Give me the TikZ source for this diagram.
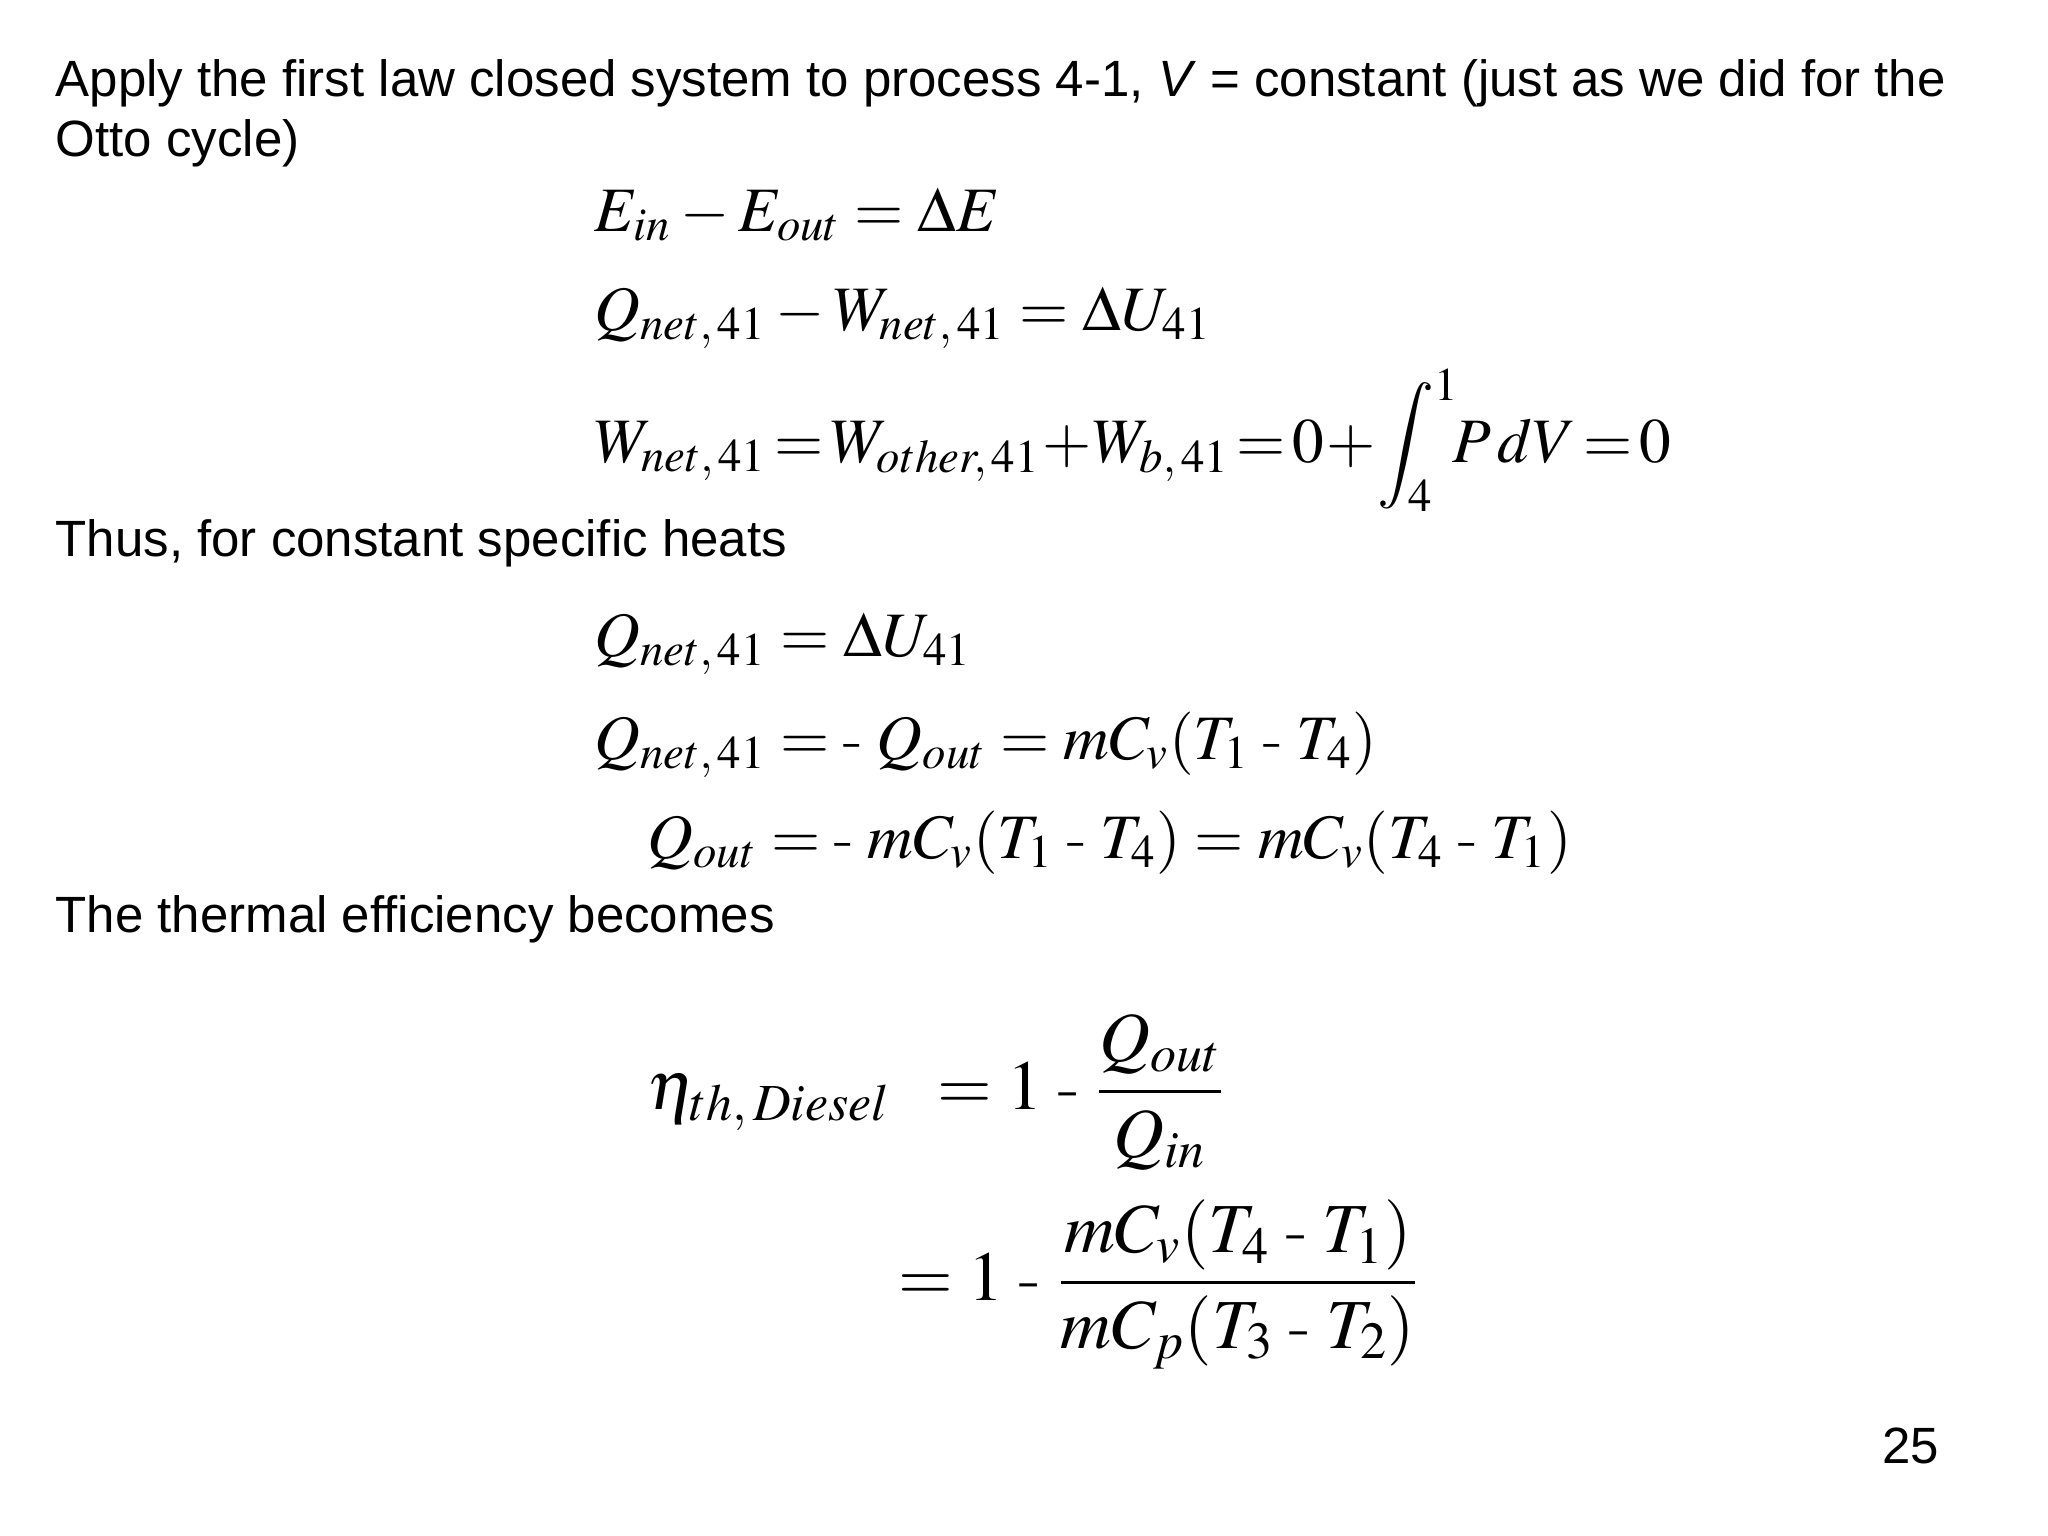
\documentclass[tikz,border=0pt]{standalone}
\usepackage{mathptmx}
\usepackage[no-math]{fontspec}
\newfontfamily\arial{Liberation Sans}
\begin{document}
\begin{tikzpicture}[x=0.01cm,y=-0.01cm,
  txt/.style={anchor=base west,inner sep=0,font=\arial\fontsize{14.5}{17}\selectfont},
  eq/.style={anchor=base west,inner sep=0,font=\fontsize{18}{22}\selectfont}]
\useasboundingbox (0,0) rectangle (2048,1536);
\node[txt] (t1) at (55,96) {Apply the first law closed system to process 4-1, \textit{V} = constant (just as we did for the};
\node[txt] (t2) at (55,156) {Otto cycle)};
\node[eq] (e1) at (594,231) {$E_{in}-E_{out}=\Delta E$};
\node[eq] (e2) at (594,330) {$Q_{net,\,41}-W_{net,\,41}=\Delta U_{41}$};
\node[eq] (e3) at (594,462) {$\displaystyle W_{net,\,41}\!=\!W_{other,\,41}\!+\!W_{b,\,41}\!=\!0\!+\!\int_4^1\!\! P\,dV\!=\!0$};
\node[txt] (t3) at (55,556) {Thus, for constant specific heats};
\node[eq] (e4) at (594,656) {$Q_{net,\,41}=\Delta U_{41}$};
\node[eq] (e5) at (594,759) {$Q_{net,\,41}=\mbox{-}\;Q_{out}=mC_v(T_1\;\mbox{-}\;T_4)$};
\node[eq] (e6) at (647,858) {$Q_{out}=\mbox{-}\;mC_v(T_1\;\mbox{-}\;T_4)=mC_v(T_4\;\mbox{-}\;T_1)$};
\node[txt] (t4) at (55,932) {The thermal efficiency becomes};
\node[eq,font=\fontsize{20}{24}\selectfont] (e7) at (647,1109) {$\displaystyle \eta_{th,\,Diesel}\;\;=1\;\mbox{-}\;\frac{Q_{out}}{Q_{in}}$};
\node[eq,font=\fontsize{20}{24}\selectfont] (e8) at (898,1300) {$\displaystyle =1\;\mbox{-}\;\frac{mC_v(T_4\;\mbox{-}\;T_1)}{mC_p(T_3\;\mbox{-}\;T_2)}$};
\node[txt,anchor=base east] (pg) at (1940,1463) {25};
\end{tikzpicture}
\end{document}
